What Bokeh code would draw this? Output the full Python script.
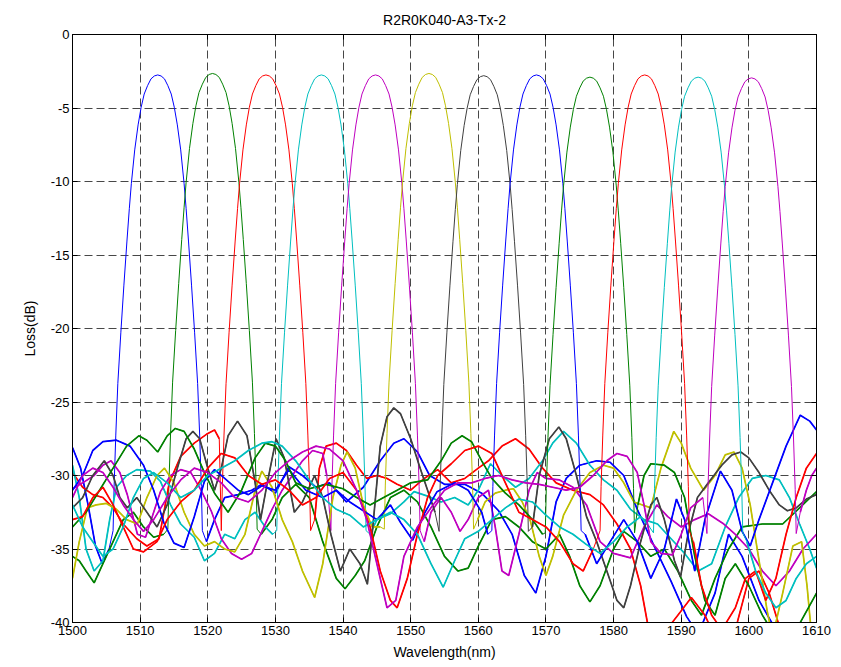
from bokeh.plotting import figure
from bokeh.models import Range1d, LinearAxis, FixedTicker
from bokeh.embed import file_html
from bokeh.resources import INLINE

# ---------------- data ----------------
x_ticks = [1500, 1510, 1520, 1530, 1540, 1550, 1560, 1570, 1580, 1590, 1600, 1610]
y_ticks = [0, -5, -10, -15, -20, -25, -30, -35, -40]

colors = ["#0000FF", "#008000", "#FF0000", "#00BFBF", "#BF00BF", "#BFBF00",
          "#404040", "#0000FF", "#008000", "#FF0000", "#00BFBF", "#BF00BF"]

centers = [1512.6, 1520.7, 1528.6, 1536.8, 1544.8, 1552.7,
           1560.8, 1568.6, 1576.5, 1584.6, 1592.5, 1600.4]
peaks = [-2.75, -2.65, -2.75, -2.75, -2.75, -2.65,
         -2.8, -2.75, -2.9, -2.75, -2.9, -2.95]

# passband shape: distance from centre (nm) and loss relative to the peak (dB)
pb_offset = [0.0, 0.5, 1.0, 1.5, 2.0, 2.45, 2.9, 3.4, 3.9, 4.2, 4.55, 5.0, 5.45, 5.9, 6.2, 6.45, 6.6]
pb_rel = [0.0, -0.07, -0.27, -0.73, -1.3, -2.2, -3.4, -5.1, -7.4, -9.1, -11.3, -14.3, -17.5, -21.0, -24.5, -28.0, -31.0]

# out-of-band floors (wavelength nm, loss dB)
ch1_floor = [(1500, -28.1), (1501.2, -29.5), (1502.3, -32.0), (1503.4, -34.8), (1504.4, -36.0), (1505.4, -35.0),
             (1519.8, -34.5), (1521, -33.0), (1522.5, -31.5), (1524.5, -31.3), (1526.5, -31.0), (1528, -30.6),
             (1530, -31.2), (1532, -29.4), (1534, -30.0), (1536, -30.8), (1538, -30.5), (1540.5, -31.8),
             (1543, -30.8), (1545.5, -29.0), (1547.5, -27.8), (1549, -27.5), (1551, -28.4), (1552.8, -30.0),
             (1555, -30.6), (1558, -30.6), (1560.5, -31.2), (1563, -32.4), (1565, -34.0), (1566.8, -36.8),
             (1568.5, -38.0), (1570, -35.5), (1571.5, -31.8), (1573, -30.2), (1575, -29.3), (1577.5, -29.0),
             (1579.5, -29.1), (1581.5, -30.0), (1583.5, -32.3), (1586, -34.8), (1588.5, -37.2), (1590.8, -39.6),
             (1592.5, -40.8), (1595, -38.0), (1597, -34.0), (1599, -35.5), (1601.5, -38.5), (1604, -40.5),
             (1607, -41.0), (1610, -41.0)]
ch2_floor = [(1500, -35.5), (1501, -35.8), (1502, -36.5), (1503.2, -37.3), (1504.5, -36.0), (1506, -34.5),
             (1507.5, -33.0), (1509, -32.5), (1510.5, -33.5), (1512, -34.2), (1513.5, -34.0),
             (1527.9, -34.0), (1529.5, -33.0), (1531, -31.5), (1533, -30.6), (1535, -31.5), (1537, -34.5),
             (1539, -37.0), (1540.3, -37.7), (1541.8, -36.8), (1543.2, -35.8), (1545, -33.5), (1547, -31.5),
             (1549, -31.0), (1551, -31.8), (1553, -33.5), (1555, -35.5), (1557, -36.5), (1558.5, -36.3),
             (1560, -34.8), (1562, -33.0), (1564, -32.8), (1566, -33.5), (1568, -34.5), (1570, -35.0),
             (1572, -34.0), (1573.5, -35.5), (1575, -37.5), (1576.5, -38.6), (1578, -37.5), (1580, -35.0),
             (1581.5, -33.8), (1583.5, -34.5), (1585.5, -35.5), (1587.5, -35.0), (1589.5, -36.5), (1591.5, -38.5),
             (1593, -39.5), (1595, -37.0), (1597, -35.0), (1599, -33.5), (1602, -33.3), (1605, -33.3),
             (1607.5, -32.2), (1610, -31.1)]
ch3_floor = [(1500, -29.8), (1501.5, -30.8), (1503, -31.3), (1504.5, -31.5), (1506, -32.2), (1507.5, -33.3),
             (1509.5, -34.3), (1511, -34.8), (1512.8, -34.3), (1514.3, -30.5), (1516, -28.7), (1518, -27.8),
             (1519.8, -27.2), (1521, -26.9), (1521.7, -27.5),
             (1535.8, -33.0), (1536.5, -29.5), (1537.5, -28.0), (1539, -27.8), (1540.5, -28.3), (1542, -29.3),
             (1543.5, -30.2), (1545, -30.0), (1546.5, -30.2), (1548, -30.6), (1550, -31.0), (1552, -30.2),
             (1554, -29.6), (1556, -30.5), (1558, -30.2), (1560, -29.5), (1561.5, -29.0), (1563.5, -28.0),
             (1565.5, -27.5), (1567.5, -28.2), (1569.5, -29.5), (1571.5, -30.5), (1574, -31.0), (1576.5, -31.3),
             (1578.5, -32.0), (1580.5, -33.3), (1582.5, -35.0), (1584, -37.5), (1585, -40.0), (1587, -41.0),
             (1589.5, -39.5), (1591.5, -38.3), (1593.5, -39.5), (1595, -41.0), (1598, -40.5), (1600, -37.0),
             (1601.5, -36.5), (1603, -38.0), (1605, -41.0), (1610, -41.0)]
ch4_floor = [(1500, -29.3), (1501, -31.5), (1502, -35.0), (1503.2, -36.5), (1504.5, -35.8), (1505.5, -33.0),
             (1506.5, -30.8), (1508, -30.0), (1509.5, -29.6), (1511.5, -29.7), (1513, -30.4), (1514.5, -32.0),
             (1516, -33.3), (1518, -34.2), (1519.5, -35.8), (1521, -35.3), (1522.5, -34.0), (1524, -34.3),
             (1525.5, -33.0), (1527, -32.5), (1528.5, -33.5), (1529.6, -34.0),
             (1544, -34.0), (1545, -33.0), (1547, -32.6), (1549, -31.8), (1550.5, -31.1), (1552.5, -31.4),
             (1554.5, -31.8), (1556.5, -31.5), (1558.5, -32.0), (1560, -31.0), (1561.8, -29.2), (1563.5, -30.0),
             (1565.5, -30.8), (1567.5, -30.2), (1569.5, -29.0), (1571, -27.8), (1572.6, -27.0), (1574.5, -27.8),
             (1576.5, -29.3), (1578.5, -30.3), (1580.5, -31.0), (1582.5, -32.3), (1584.5, -33.0), (1586.5, -33.3),
             (1588.5, -34.3), (1590.5, -35.3), (1592.5, -36.5), (1594.5, -36.0), (1596.5, -33.5), (1598.5, -31.5),
             (1600.5, -30.2), (1602.5, -30.0), (1604.5, -30.3), (1606, -31.5), (1607.5, -33.3), (1609, -35.0),
             (1610, -36.3)]
ch5_floor = [(1500, -30.9), (1501.5, -30.5), (1503.2, -30.0), (1504.5, -29.3), (1505.7, -29.0), (1507, -29.8),
             (1508.1, -31.3), (1509.6, -34.0), (1510.8, -34.2), (1512, -32.5), (1513, -31.1), (1514.5, -30.0),
             (1516, -29.6), (1517.5, -29.8), (1519, -31.0), (1520.5, -32.4), (1522, -34.3), (1523.5, -35.3),
             (1525, -35.7), (1526.5, -35.3), (1528, -33.8), (1529.5, -32.3), (1531, -31.0), (1532.5, -30.0),
             (1534, -29.0), (1535.5, -28.3), (1537, -28.5), (1537.6, -30.0),
             (1552, -34.5), (1553, -32.5), (1554.5, -31.5), (1556, -32.5), (1557.3, -33.8), (1558.5, -33.0),
             (1560, -31.5), (1561.5, -31.0), (1562.5, -33.5), (1563.5, -36.5), (1564.5, -36.8), (1566, -34.0),
             (1567.5, -31.0), (1568.7, -29.8), (1570, -30.2), (1572, -30.3), (1574, -30.8), (1576, -32.0),
             (1578, -34.5), (1580, -35.3), (1582.5, -35.6), (1584.5, -33.5), (1586.4, -32.0), (1588, -32.8),
             (1590, -33.5), (1592, -33.0), (1594, -32.6), (1596.3, -33.3), (1598, -34.0), (1600, -35.0),
             (1602, -36.5), (1604, -37.5), (1606, -36.5), (1608, -35.0), (1610, -34.0)]
ch6_floor = [(1500, -37.0), (1501, -34.5), (1502.2, -32.2), (1503.5, -32.0), (1505, -31.9), (1506.5, -32.3),
             (1508, -33.0), (1509.6, -33.3), (1511, -31.5), (1512.5, -30.0), (1513.6, -29.5), (1515, -30.5),
             (1516.5, -32.5), (1518, -34.0), (1519.5, -34.8), (1521, -34.5), (1522.5, -35.0), (1524, -35.2),
             (1525.5, -34.0), (1527, -31.0), (1528, -29.7), (1529.5, -30.8), (1531, -33.0), (1532.5, -34.5),
             (1534, -36.5), (1535.8, -38.3), (1537, -36.0), (1538.5, -31.5), (1539.7, -29.3), (1540.6, -28.4),
             (1541.8, -29.5), (1543, -32.0), (1544.3, -33.5), (1545.5, -33.5),
             (1559.9, -33.0), (1561, -31.8), (1562.5, -31.2), (1564, -31.0), (1565.2, -30.9), (1566.5, -31.8),
             (1567.7, -33.1), (1569, -35.5), (1570, -36.8), (1571, -35.5), (1572.6, -32.7), (1574.5, -31.0),
             (1576.5, -29.8), (1578.5, -29.3), (1580, -29.5), (1581.5, -30.5), (1583, -31.8), (1585.5, -32.2),
             (1587, -29.5), (1588.9, -27.0), (1590, -27.8), (1591.4, -29.5), (1593.3, -31.0), (1595, -30.0),
             (1596.5, -28.6), (1597.8, -28.4), (1599, -29.5), (1600.2, -32.0), (1601.2, -34.9), (1602.7, -39.2),
             (1603.5, -41.0), (1605, -38.0), (1606.5, -34.8), (1607.8, -34.5), (1608.6, -37.5), (1609.3, -41.0),
             (1610, -41.5)]
ch7_floor = [(1500, -32.2), (1501.5, -31.5), (1503, -30.0), (1504.7, -29.0), (1506, -30.0), (1507, -31.5),
             (1508.1, -32.2), (1509.5, -31.5), (1511, -32.5), (1512.5, -33.5), (1514, -32.0), (1515.5, -29.5),
             (1516.8, -27.5), (1517.8, -27.0), (1518.8, -27.5), (1520, -29.5), (1521, -31.0), (1522, -29.5),
             (1523, -27.3), (1524.4, -26.3), (1525.8, -27.3), (1527, -30.5), (1527.8, -33.0), (1528.8, -30.5),
             (1530.1, -27.5), (1531.3, -28.8), (1532.8, -32.5), (1534, -31.8), (1535.8, -30.0), (1537, -31.5),
             (1538.2, -34.0), (1539.6, -36.5), (1541, -35.0), (1542.5, -36.0), (1543.6, -37.4), (1544.5, -33.0),
             (1545.5, -28.0), (1546.5, -26.0), (1547.5, -25.4), (1548.5, -25.8), (1550, -27.5), (1551.4, -29.5),
             (1552.5, -31.0), (1553.6, -32.5),
             (1568, -33.5), (1569, -30.0), (1570.5, -27.5), (1571.9, -26.7), (1573, -27.5), (1574.5, -30.0),
             (1576, -32.8), (1577.5, -34.5), (1579, -36.5), (1580.5, -38.5), (1581.5, -39.0), (1582.5, -37.5),
             (1584, -34.5), (1585.5, -32.0), (1586.4, -31.5), (1587.5, -33.0), (1589, -35.8), (1589.9, -36.9),
             (1591, -34.0), (1592.4, -31.5), (1594, -30.5), (1596, -29.3), (1597.5, -28.6), (1598.8, -28.4),
             (1600, -28.8), (1601.5, -29.8), (1603, -31.0), (1604.5, -32.0), (1605.7, -32.4), (1607, -32.2),
             (1608.5, -31.6), (1610, -31.3)]
ch8_floor = [(1500, -31.0), (1501.5, -30.0), (1503, -28.3), (1504.5, -27.7), (1506.5, -27.6), (1508.5, -28.0),
             (1510.5, -29.3), (1512, -31.0), (1513.5, -33.2), (1515, -34.6), (1516.5, -34.9), (1518, -32.8),
             (1519.5, -30.4), (1521, -29.6), (1522.5, -30.2), (1524.5, -31.0), (1526, -31.3), (1528, -30.7),
             (1530, -31.0), (1532, -29.6), (1534.5, -31.0), (1537, -31.5), (1539, -31.0), (1541, -31.8),
             (1543, -32.4), (1545, -33.0), (1547, -32.0), (1548.5, -33.2), (1550.3, -34.4), (1552, -32.6),
             (1553.9, -31.1), (1556.5, -30.5), (1558.5, -31.0), (1560.5, -32.5), (1561.4, -34.0),
             (1575.8, -34.0), (1577.5, -36.0), (1579.5, -34.5), (1581.5, -33.0), (1583.5, -34.5), (1585.5, -37.0),
             (1587.5, -35.0), (1589.3, -31.6), (1590.5, -33.0), (1592, -36.5), (1593.5, -33.0), (1595.8, -29.7),
             (1597.5, -31.0), (1599, -33.8), (1600.2, -34.8), (1601.5, -33.0), (1603.5, -30.5), (1605.5, -28.0),
             (1607.6, -25.9), (1609, -26.3), (1610, -26.9)]
ch9_floor = [(1500, -33.5), (1502, -32.5), (1504, -31.0), (1506, -29.5), (1508, -28.0), (1509.8, -27.3),
             (1511, -27.6), (1512.6, -28.4), (1514, -27.3), (1515.2, -26.8), (1516.5, -27.0), (1518, -28.2),
             (1519.5, -29.8), (1521, -31.2), (1523, -32.5), (1525, -31.0), (1527, -28.8), (1528.5, -27.8),
             (1530, -28.0), (1531.5, -29.0), (1533, -30.5), (1535, -30.9), (1537.5, -30.6), (1540, -30.9),
             (1542, -31.5), (1544, -32.0), (1546, -31.5), (1548, -31.0), (1550, -30.5), (1552.5, -30.3),
             (1554.5, -29.0), (1556, -27.8), (1557.6, -27.3), (1559, -27.7), (1560.5, -29.0), (1562, -30.2),
             (1564, -31.2), (1566, -32.0), (1568, -33.0), (1569.5, -34.0),
             (1583.6, -32.0), (1584.5, -30.0), (1585.5, -29.2), (1587.5, -29.3), (1589, -29.8), (1590.5, -31.5),
             (1592, -35.5), (1593.5, -38.5), (1595, -39.5), (1596.5, -37.0), (1598, -36.0), (1600, -37.5),
             (1602, -39.5), (1604, -41.0), (1607, -40.5), (1610, -38.0)]
ch10_floor = [(1500, -33.0), (1501.5, -32.8), (1503, -31.5), (1504.5, -30.8), (1506, -32.0), (1507.5, -33.5),
              (1509, -35.0), (1510.5, -35.2), (1512.5, -34.5), (1514, -33.0), (1516, -31.8), (1518, -31.0),
              (1520, -29.5), (1522, -28.5), (1524, -28.8), (1526, -30.0), (1528, -30.6), (1530, -30.3),
              (1532, -31.0), (1534, -32.0), (1536, -31.5), (1538, -30.2), (1540, -29.8), (1542, -31.0),
              (1544, -33.5), (1545.5, -36.5), (1547, -38.5), (1548, -39.0), (1549.5, -37.0), (1551, -34.0),
              (1552.5, -31.5), (1554, -30.0), (1556, -29.2), (1558, -28.3), (1560, -28.0), (1562, -28.5),
              (1564, -30.5), (1566, -32.5), (1568, -33.0), (1570, -33.5), (1572, -34.5), (1574, -36.0),
              (1575.5, -36.5), (1577, -35.0),
              (1591.8, -34.5), (1593, -37.5), (1594.5, -39.5), (1596, -40.5), (1598, -39.0), (1599.5, -37.0),
              (1601, -36.5), (1602.5, -38.5), (1604, -37.0), (1605.5, -34.0), (1607, -31.5), (1608.5, -29.5),
              (1610, -28.5)]
ch11_floor = [(1500, -32.0), (1501.5, -33.5), (1503, -34.5), (1504.5, -35.5), (1506, -35.0), (1507.5, -33.5),
              (1509, -31.5), (1510.5, -30.2), (1512, -29.8), (1514, -30.5), (1516, -31.5), (1518, -31.0),
              (1520, -30.0), (1522, -29.5), (1524, -29.0), (1526, -28.3), (1528, -27.8), (1529.5, -27.7),
              (1531, -28.0), (1533, -29.0), (1535, -30.3), (1537, -31.5), (1539, -32.3), (1541, -32.7),
              (1543, -33.5), (1545, -33.0), (1547, -32.5), (1549, -33.0), (1551, -34.0), (1553, -36.0),
              (1554.8, -37.6), (1556.5, -35.8), (1558, -34.3), (1560, -33.8), (1562, -33.0), (1564, -32.2),
              (1566, -31.6), (1568, -31.8), (1570, -32.7), (1572, -33.5), (1574, -34.0), (1576, -34.7),
              (1578, -35.3), (1580, -34.5), (1582, -33.5), (1584, -32.8), (1585.3, -33.5),
              (1599.7, -34.5), (1601, -36.5), (1602.5, -38.0), (1604, -39.0), (1605.5, -38.5), (1607, -37.0),
              (1608.5, -36.0), (1610, -35.5)]
ch12_floor = [(1500, -31.5), (1501.5, -30.0), (1503, -29.5), (1504.5, -29.8), (1506, -30.8), (1507.5, -32.0),
              (1509, -33.0), (1510.5, -33.8), (1512, -33.0), (1514, -31.5), (1516, -30.3), (1518, -29.5),
              (1520, -29.8), (1522, -30.5), (1524, -31.5), (1526, -31.8), (1528, -31.0), (1530, -29.8),
              (1532, -29.0), (1534, -28.4), (1536, -28.0), (1538, -28.2), (1540, -29.0), (1542, -31.0),
              (1543.5, -33.0), (1545, -36.0), (1546.5, -39.0), (1547.8, -38.5), (1549, -35.5), (1551, -33.5),
              (1553, -32.2), (1555, -31.0), (1557, -30.5), (1559, -30.5), (1561, -30.2), (1563, -30.0),
              (1565, -30.3), (1567, -30.5), (1569, -30.6), (1571, -30.8), (1573, -31.0), (1575, -30.8),
              (1577, -30.0), (1579, -29.0), (1580.5, -28.5), (1582, -28.7), (1583.5, -29.8), (1584.5, -32.0),
              (1585.5, -34.5), (1587, -35.3), (1588.7, -35.4), (1590, -34.0), (1591.4, -32.2), (1593.2, -31.5),
              (1607.6, -32.5), (1608.5, -31.0), (1609.3, -30.0), (1610, -29.5)]

floors = [ch1_floor, ch2_floor, ch3_floor, ch4_floor, ch5_floor, ch6_floor,
          ch7_floor, ch8_floor, ch9_floor, ch10_floor, ch11_floor, ch12_floor]

# ---------------- figure ----------------
FONT = "Liberation Sans"
p = figure(width=841, height=667, output_backend="svg", toolbar_location=None,
           x_range=Range1d(1500, 1610), y_range=Range1d(-40, 0),
           min_border_left=72, min_border_right=25, min_border_top=34, min_border_bottom=45,
           background_fill_color="white", border_fill_color="white")

p.title.text = "R2R0K040-A3-Tx-2"
p.title.align = "center"
p.title.vertical_align = "top"
p.title.text_font = FONT
p.title.text_font_size = "14px"
p.title.text_font_style = "normal"
p.title.text_color = "black"

p.outline_line_color = "black"
p.outline_line_width = 1
p.outline_line_alpha = 1.0

for ax, ticks in ((p.xaxis[0], x_ticks), (p.yaxis[0], y_ticks)):
    ax.ticker = FixedTicker(ticks=ticks)
    ax.major_label_overrides = {t: str(t) for t in ticks}
    ax.major_tick_in = 5
    ax.major_tick_out = 0
    ax.minor_tick_line_color = None
    ax.axis_line_color = "black"
    ax.major_tick_line_color = "black"
    ax.major_label_text_font = FONT
    ax.major_label_text_font_size = "13px"
    ax.major_label_text_color = "black"
    ax.major_label_standoff = 3
    ax.axis_label_text_font = FONT
    ax.axis_label_text_font_size = "14px"
    ax.axis_label_text_font_style = "normal"
    ax.axis_label_text_color = "black"

p.xaxis.axis_label = "Wavelength(nm)"
p.xaxis.axis_label_standoff = 6
p.yaxis.axis_label = "Loss(dB)"
p.yaxis.axis_label_standoff = 10

# box ticks on top and right (no labels)
right_ax = LinearAxis(ticker=FixedTicker(ticks=y_ticks), major_tick_in=5, major_tick_out=0,
                      minor_tick_line_color=None, major_label_overrides={t: "" for t in y_ticks},
                      major_label_standoff=0, axis_line_color="black")
top_ax = LinearAxis(ticker=FixedTicker(ticks=x_ticks), major_tick_in=5, major_tick_out=0,
                    minor_tick_line_color=None, major_label_overrides={t: "" for t in x_ticks},
                    major_label_standoff=0, axis_line_color="black")
p.add_layout(right_ax, "right")
p.add_layout(top_ax, "above")

p.xgrid.ticker = FixedTicker(ticks=x_ticks)
p.ygrid.ticker = FixedTicker(ticks=y_ticks)
for g in (p.xgrid[0], p.ygrid[0]):
    g.grid_line_color = "#333333"
    g.grid_line_dash = "8 4"
    g.grid_line_width = 1
    g.grid_line_alpha = 0.9

for center, peak, floor, color in zip(centers, peaks, floors, colors):
    left = [(w, d) for w, d in floor if w < center]
    right = [(w, d) for w, d in floor if w > center]
    band = [(center - o, peak + r) for o, r in zip(reversed(pb_offset), reversed(pb_rel))]
    band += [(center + o, peak + r) for o, r in zip(pb_offset[1:], pb_rel[1:])]
    pts = left + band + right
    p.line([pt[0] for pt in pts], [pt[1] for pt in pts], line_color=color, line_width=1)
    # the noisy out-of-band floor reads as a heavier trace
    for seg in (left, right):
        p.line([pt[0] for pt in seg], [pt[1] for pt in seg], line_color=color, line_width=1.7)

open("out.html", "w").write(file_html(p, INLINE))
